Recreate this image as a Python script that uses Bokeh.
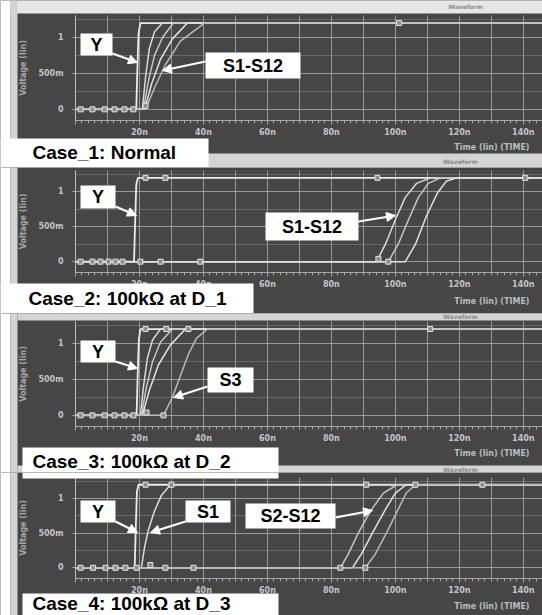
from bokeh.plotting import figure
from bokeh.models import (BoxAnnotation, Label, Arrow, NormalHead, FixedTicker,
                          SingleIntervalTicker, Range1d)
from bokeh.layouts import column
from bokeh.embed import file_html
from bokeh.resources import INLINE

# ---------------- data (time in ns, voltage in V) ----------------
x_tick_values = [0, 20, 40, 60, 80, 100, 120, 140]
x_tick_labels = ["", "20n", "40n", "60n", "80n", "100n", "120n", "140n"]
y_tick_values = [0, 0.5, 1.0]
y_tick_labels = ["0", "500m", "1"]

# Case 1: Normal
case1_y_t = [0, 19.0, 19.3, 19.7, 20.3, 146]
case1_y_v = [0, 0, 0.5, 1.05, 1.2, 1.2]
case1_sa_t = [0, 20.9, 21.9, 23.1, 24.7, 27.2, 146]
case1_sa_v = [0, 0, 0.45, 0.85, 1.08, 1.2, 1.2]
case1_sb_t = [0, 21.25, 22.8, 24.7, 27.2, 30.6, 146]
case1_sb_v = [0, 0, 0.4, 0.75, 1.0, 1.2, 1.2]
case1_sc_t = [0, 21.6, 23.75, 26.6, 30.3, 35.0, 146]
case1_sc_v = [0, 0, 0.35, 0.7, 0.98, 1.2, 1.2]
case1_sd_t = [0, 21.9, 24.7, 28.1, 32.8, 40.3, 146]
case1_sd_v = [0, 0, 0.3, 0.62, 0.95, 1.2, 1.2]
case1_mk_t = [1.6, 5.3, 9.1, 12.2, 15.3, 18.1, 21.9, 101.2]
case1_mk_v = [0, 0, 0, 0, 0, 0, 0.05, 1.2]

# Case 2: 100k at D_1
case2_y_t = [0, 18.3, 18.6, 19.0, 19.5, 146]
case2_y_v = [0, 0, 0.5, 1.1, 1.2, 1.2]
case2_sa_t = [0, 94.1, 96.9, 100.0, 103.1, 106.6, 111.0, 146]
case2_sa_v = [0, 0, 0.25, 0.6, 0.92, 1.12, 1.2, 1.2]
case2_sb_t = [0, 97.8, 100.9, 104.1, 107.2, 110.3, 114.1, 146]
case2_sb_v = [0, 0, 0.25, 0.6, 0.92, 1.12, 1.2, 1.2]
case2_sc_t = [0, 103.1, 106.3, 109.7, 113.1, 115.9, 119.1, 146]
case2_sc_v = [0, 0, 0.25, 0.65, 0.98, 1.15, 1.2, 1.2]
case2_mk_t = [1.6, 5.3, 7.8, 10.3, 12.5, 14.7, 20.3, 26.6, 39.0, 21.9, 28.1, 94.4, 140.6, 94.7, 97.8]
case2_mk_v = [0, 0, 0, 0, 0, 0, 0, 0, 0, 1.2, 1.2, 1.2, 1.2, 0.04, 0.0]

# Case 3: 100k at D_2
case3_y_t = [0, 19.1, 19.4, 19.8, 20.3, 146]
case3_y_v = [0, 0, 0.5, 1.05, 1.2, 1.2]
case3_sa_t = [0, 20.3, 21.25, 22.5, 24.1, 26.6, 146]
case3_sa_v = [0, 0, 0.4, 0.8, 1.05, 1.2, 1.2]
case3_sb_t = [0, 20.6, 22.2, 24.1, 26.6, 30.3, 146]
case3_sb_v = [0, 0, 0.4, 0.75, 1.02, 1.2, 1.2]
case3_sc_t = [0, 20.9, 23.1, 25.9, 29.7, 34.4, 146]
case3_sc_v = [0, 0, 0.35, 0.7, 0.98, 1.2, 1.2]
case3_s3_t = [0, 27.5, 30.3, 32.8, 35.3, 37.8, 41.25, 146]
case3_s3_v = [0, 0, 0.25, 0.55, 0.85, 1.07, 1.2, 1.2]
case3_mk_t = [1.6, 5.3, 9.1, 12.2, 15.3, 18.1, 22.2, 27.5, 21.9, 28.4, 35.3, 110.9]
case3_mk_v = [0, 0, 0, 0, 0, 0, 0.04, 0, 1.2, 1.2, 1.2, 1.2]

# Case 4: 100k at D_3
case4_y_t = [0, 18.5, 18.8, 19.2, 19.7, 146]
case4_y_v = [0, 0, 0.5, 1.1, 1.2, 1.2]
case4_s1_t = [0, 20.6, 21.6, 22.8, 24.7, 26.9, 29.7, 146]
case4_s1_v = [0, 0, 0.3, 0.55, 0.82, 1.05, 1.2, 1.2]
case4_sa_t = [0, 82.8, 85.3, 88.4, 92.2, 96.25, 100.6, 146]
case4_sa_v = [0, 0, 0.2, 0.5, 0.82, 1.08, 1.2, 1.2]
case4_sb_t = [0, 86.6, 89.4, 92.8, 96.6, 100.0, 103.4, 146]
case4_sb_v = [0, 0, 0.2, 0.5, 0.82, 1.08, 1.2, 1.2]
case4_sc_t = [0, 90.6, 93.75, 97.2, 100.6, 103.4, 106.25, 146]
case4_sc_v = [0, 0, 0.2, 0.5, 0.82, 1.08, 1.2, 1.2]
case4_mk_t = [1.6, 5.5, 9.4, 12.5, 15.6, 19.1, 23.4, 28.1, 36.9, 82.8, 90.6, 21.9, 30.0, 90.9, 106.25, 127.2]
case4_mk_v = [0, 0, 0, 0, 0, 0, 0.04, 0, 0, 0, 0, 1.2, 1.2, 1.2, 1.2, 1.2]

# ---------------- style / layout ----------------
W = 542
PLOT_LEFT = 75          # pixel where t = 0
X_START, X_END = 0.0, 146.0
Y_START, Y_END = -0.155, 1.305
DARK = "#464646"
LIGHT = "#d4d4d4"
TOPLIGHT = "#e6e6e6"
GRID = "#a6a6a6"
TICKTXT = "#c4c4c4"
Y_COLOR = "#ececec"
S_COLORS = ["#dadada", "#c6c6c6", "#e2e2e2", "#b9b9b9"]
LABEL_FONT = "Liberation Sans"

panels = [
    dict(h=167, top=15, ph=105,
         curves=[(case1_y_t, case1_y_v), (case1_sa_t, case1_sa_v), (case1_sb_t, case1_sb_v),
                 (case1_sc_t, case1_sc_v), (case1_sd_t, case1_sd_v)],
         marks=(case1_mk_t, case1_mk_v),
         strips=[(0, 10, 0, 167, "white"), (10, 542, 0, 13, TOPLIGHT), (10, 17, 0, 167, LIGHT),
                 (17, 542, 153, 167, LIGHT), (0, 208, 138, 167, "white")],
         titles=[(465, 6), (460, 161)],
         boxes=[(80, 112, 33, 55, "Y"), (205, 300, 52, 78, "S1-S12")],
         arrows=[(112, 53, 137, 62), (205, 61, 162, 70)],
         case=("Case_1: Normal", 32, 152),
         time_y=147),
    dict(h=146, top=3, ph=102,
         curves=[(case2_y_t, case2_y_v), (case2_sa_t, case2_sa_v), (case2_sb_t, case2_sb_v),
                 (case2_sc_t, case2_sc_v)],
         marks=(case2_mk_t, case2_mk_v),
         strips=[(0, 10, 0, 146, "white"), (10, 17, 0, 146, LIGHT), (0, 253, 116, 146, "white")],
         titles=[],
         boxes=[(80, 115, 18, 41, "Y"), (265, 358, 45, 73, "S1-S12")],
         arrows=[(115, 39, 136, 48), (358, 54, 395, 48)],
         case=("Case_2: 100k\u03a9 at D_1", 28, 131),
         time_y=134),
    dict(h=159, top=8, ph=105,
         curves=[(case3_y_t, case3_y_v), (case3_sa_t, case3_sa_v), (case3_sb_t, case3_sb_v),
                 (case3_sc_t, case3_sc_v), (case3_s3_t, case3_s3_v)],
         marks=(case3_mk_t, case3_mk_v),
         strips=[(0, 10, 0, 159, "white"), (10, 17, 0, 159, LIGHT), (17, 542, 0, 7, LIGHT),
                 (17, 542, 152, 159, LIGHT), (22, 278, 134, 159, "white")],
         titles=[(460, 3), (460, 156)],
         boxes=[(80, 115, 27, 49, "Y"), (207, 253, 54, 79, "S3")],
         arrows=[(115, 48, 137, 55), (207, 73, 173, 84)],
         case=("Case_3: 100k\u03a9 at D_2", 32, 148),
         time_y=140),
    dict(h=143, top=5, ph=101,
         curves=[(case4_y_t, case4_y_v), (case4_s1_t, case4_s1_v), (case4_sa_t, case4_sa_v),
                 (case4_sb_t, case4_sb_v), (case4_sc_t, case4_sc_v)],
         marks=(case4_mk_t, case4_mk_v),
         strips=[(0, 10, 0, 143, "white"), (10, 17, 0, 143, LIGHT), (22, 278, 0, 6, "white"),
                 (22, 278, 121, 143, "white")],
         titles=[],
         boxes=[(80, 115, 28, 50, "Y"), (185, 230, 28, 50, "S1"), (245, 335, 31, 56, "S2-S12")],
         arrows=[(115, 49, 137, 60), (185, 49, 150, 60), (335, 45, 372, 38)],
         case=("Case_4: 100k\u03a9 at D_3", 32, 131),
         time_y=134),
]


def make_panel(cfg):
    H, top, ph = cfg["h"], cfg["top"], cfg["ph"]
    k = ph / (Y_END - Y_START)

    def tx(px):
        return X_START + (px - PLOT_LEFT) * (X_END - X_START) / (W - PLOT_LEFT)

    def vy(py):
        return Y_END - (py - top) / k

    # the frame covers the whole canvas; axes sit at fixed positions inside it
    p = figure(width=W, height=H, title=None,
               x_range=Range1d(tx(0), tx(W)), y_range=Range1d(vy(H), vy(0)),
               output_backend="svg", toolbar_location=None, min_border=0,
               min_border_left=0, min_border_right=0, min_border_top=0, min_border_bottom=0,
               background_fill_color=DARK, border_fill_color=DARK,
               outline_line_color=None)

    # x axis
    xa = p.xaxis[0]
    xa.fixed_location = Y_START
    xa.bounds = (X_START, X_END)
    xa.ticker = SingleIntervalTicker(interval=20, num_minor_ticks=10)
    xa.major_label_overrides = {v: s for v, s in zip(x_tick_values, x_tick_labels)}
    xa.axis_line_color = GRID
    xa.major_tick_line_color = GRID
    xa.minor_tick_line_color = GRID
    xa.major_tick_out = 4
    xa.major_tick_in = 0
    xa.minor_tick_out = 3
    xa.minor_tick_in = 0
    xa.major_label_standoff = 3
    xa.major_label_text_color = TICKTXT
    xa.major_label_text_font = "DejaVu Sans"
    xa.major_label_text_font_style = "bold"
    xa.major_label_text_font_size = "8px"

    # y axis
    ya = p.yaxis[0]
    ya.fixed_location = X_START
    ya.bounds = (Y_START, Y_END)
    ya.ticker = FixedTicker(ticks=y_tick_values)
    ya.major_label_overrides = {v: s for v, s in zip(y_tick_values, y_tick_labels)}
    ya.axis_line_color = "#bdbdbd"
    ya.major_tick_line_color = GRID
    ya.major_tick_out = 3
    ya.major_tick_in = 0
    ya.minor_tick_line_color = None
    ya.major_label_standoff = 9
    ya.major_label_text_color = TICKTXT
    ya.major_label_text_font = "DejaVu Sans"
    ya.major_label_text_font_style = "bold"
    ya.major_label_text_font_size = "8px"
    ya.axis_label = "Voltage (lin)"
    ya.axis_label_text_color = "#a8a8a8"
    ya.axis_label_text_font = "DejaVu Sans"
    ya.axis_label_text_font_style = "bold"
    ya.axis_label_text_font_size = "8px"
    ya.axis_label_standoff = 7

    # grid limited to the plotting area
    p.xgrid.ticker = SingleIntervalTicker(interval=10)
    p.xgrid.bounds = (X_START, X_END)
    p.xgrid.cross_bounds = (Y_START, Y_END)
    p.xgrid.grid_line_color = GRID
    p.xgrid.grid_line_alpha = 0.85
    p.ygrid.ticker = FixedTicker(ticks=y_tick_values, minor_ticks=[0.25, 0.75, 1.25])
    p.ygrid.bounds = (Y_START, Y_END)
    p.ygrid.cross_bounds = (X_START, X_END)
    p.ygrid.grid_line_color = GRID
    p.ygrid.grid_line_alpha = 0.85
    p.ygrid.minor_grid_line_color = GRID
    p.ygrid.minor_grid_line_alpha = 0.35

    # curves
    for i, (t, v) in enumerate(cfg["curves"]):
        if i == 0:
            p.line(t, v, line_color=Y_COLOR, line_width=1.8)
        else:
            p.line(t, v, line_color=S_COLORS[(i - 1) % len(S_COLORS)], line_width=1.5)
    mt, mv = cfg["marks"]
    p.scatter(mt, mv, marker="square", size=5, fill_color="#8e8e8e",
              line_color="#e4e4e4", line_width=1)

    # window strips and white label boxes
    for (l, r, t, b, c) in cfg["strips"]:
        p.add_layout(BoxAnnotation(left=tx(l), right=tx(r), top=vy(t), bottom=vy(b),
                                   fill_color=c, fill_alpha=1.0, line_color=None))
    for (x, y) in cfg["titles"]:
        p.add_layout(Label(x=tx(x), y=vy(y), text="Waveform", text_color="#8a8a8a",
                           text_font="DejaVu Sans", text_font_size="6px",
                           text_font_style="bold", text_align="center",
                           text_baseline="middle"))

    for (l, r, t, b, txt) in cfg["boxes"]:
        p.add_layout(BoxAnnotation(left=tx(l), right=tx(r), top=vy(t), bottom=vy(b),
                                   fill_color="white", fill_alpha=1.0, line_color=None))
        p.add_layout(Label(x=tx((l + r) / 2), y=vy((t + b) / 2), text=txt,
                           text_color="black", text_font=LABEL_FONT, text_font_size="18px",
                           text_font_style="bold", text_align="center",
                           text_baseline="middle"))
    for (x0, y0, x1, y1) in cfg["arrows"]:
        p.add_layout(Arrow(x_start=tx(x0), y_start=vy(y0), x_end=tx(x1), y_end=vy(y1),
                           line_color="white", line_width=2,
                           end=NormalHead(size=9, fill_color="white", line_color="white",
                                          line_width=1)))

    ctext, cx, cy = cfg["case"]
    p.add_layout(Label(x=tx(cx), y=vy(cy), text=ctext, text_color="black",
                       text_font=LABEL_FONT, text_font_size="19px", text_font_style="bold",
                       text_align="left", text_baseline="middle"))

    p.add_layout(Label(x=tx(529), y=vy(cfg["time_y"]), text="Time (lin) (TIME)",
                       text_color="#bcbcbc", text_font="DejaVu Sans", text_font_size="8px",
                       text_font_style="bold", text_align="right", text_baseline="middle"))
    return p


figs = [make_panel(c) for c in panels]
layout = column(*figs, spacing=0)
open("out.html", "w").write(file_html(layout, INLINE))
